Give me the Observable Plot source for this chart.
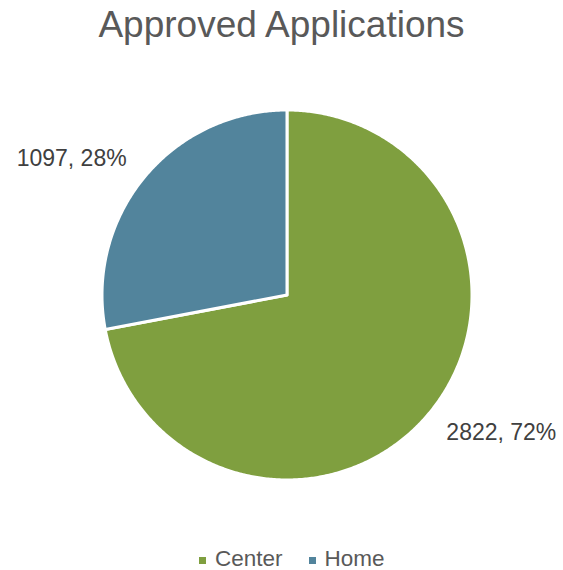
<!DOCTYPE html>
<html>
<head>
<meta charset="utf-8">
<script src="https://cdn.jsdelivr.net/npm/d3@7"></script>
<script src="https://cdn.jsdelivr.net/npm/@observablehq/plot@0.6"></script>
<style>
  html, body { margin: 0; padding: 0; background: #fff; }
  body { width: 563px; height: 570px; overflow: hidden; font-family: "Liberation Sans", Arial, sans-serif; }
  #title { height: 56px; box-sizing: border-box; padding-top: 3px; line-height: 44px; font-size: 37px; color: #595959; text-align: center; white-space: nowrap; }
  #chart svg { display: block; }
  #legend { height: 40px; box-sizing: border-box; padding-top: 19px; padding-left: 199px; font-size: 22.5px; line-height: 20px; color: #595959; white-space: nowrap; }
  .item { display: inline-block; margin-right: 26px; }
  .sw { display: inline-block; width: 7px; height: 7px; margin-right: 9px; vertical-align: 2px; }
</style>
</head>
<body>
<div id="title">Approved Applications</div>
<div id="chart"></div>
<div id="legend"></div>
<script>
const categories = ["Center", "Home"];
const values = [2822, 1097];
const colors = ["#7F9F3F", "#52849C"];

const W = 563, H = 474, cx = 286.5, cy = 238.5, R = 185;
const total = d3.sum(values);

// slice polygons (clockwise from 12 o'clock), in unit-circle data coordinates
const slicePoints = [];
const labels = [];
let acc = 0;
categories.forEach((cat, i) => {
  const a0 = acc / total * 2 * Math.PI;
  acc += values[i];
  const a1 = acc / total * 2 * Math.PI;
  slicePoints.push({cat, x: 0, y: 0});
  const n = Math.max(2, Math.ceil((a1 - a0) / (Math.PI / 360)));
  for (let k = 0; k <= n; k++) {
    const t = a0 + (a1 - a0) * k / n;
    slicePoints.push({cat, x: Math.sin(t), y: Math.cos(t)});
  }
  slicePoints.push({cat, x: 0, y: 0});
  const am = (a0 + a1) / 2;
  const pct = Math.round(values[i] / total * 100);
  labels.push({cat, x: 1.09 * Math.sin(am), y: 1.09 * Math.cos(am), text: `${values[i]}, ${pct}%`});
});

const font = "Liberation Sans, Arial, sans-serif";
const chart = Plot.plot({
  width: W,
  height: H,
  margin: 0,
  x: {domain: [-cx / R, (W - cx) / R], range: [0, W], axis: null},
  y: {domain: [-(H - cy) / R, cy / R], range: [H, 0], axis: null},
  color: {domain: categories, range: colors},
  style: {fontFamily: font, background: "#fff"},
  marks: [
    Plot.line(slicePoints, {x: "x", y: "y", z: "cat", fill: "cat", stroke: "#fff", strokeWidth: 3, strokeLinejoin: "round"}),
    Plot.text(labels.filter(d => d.x < 0), {x: "x", y: "y", text: "text", textAnchor: "end", lineAnchor: "bottom", dx: -5, fontSize: 23, fill: "#404040"}),
    Plot.text(labels.filter(d => d.x >= 0), {x: "x", y: "y", text: "text", textAnchor: "start", lineAnchor: "top", dx: 4, fontSize: 23, fill: "#404040"})
  ]
});
document.getElementById("chart").appendChild(chart);

const legend = document.getElementById("legend");
categories.forEach((cat, i) => {
  const item = document.createElement("span");
  item.className = "item";
  const sw = document.createElement("span");
  sw.className = "sw";
  sw.style.background = colors[i];
  item.appendChild(sw);
  item.appendChild(document.createTextNode(cat));
  legend.appendChild(item);
});
</script>
</body>
</html>
